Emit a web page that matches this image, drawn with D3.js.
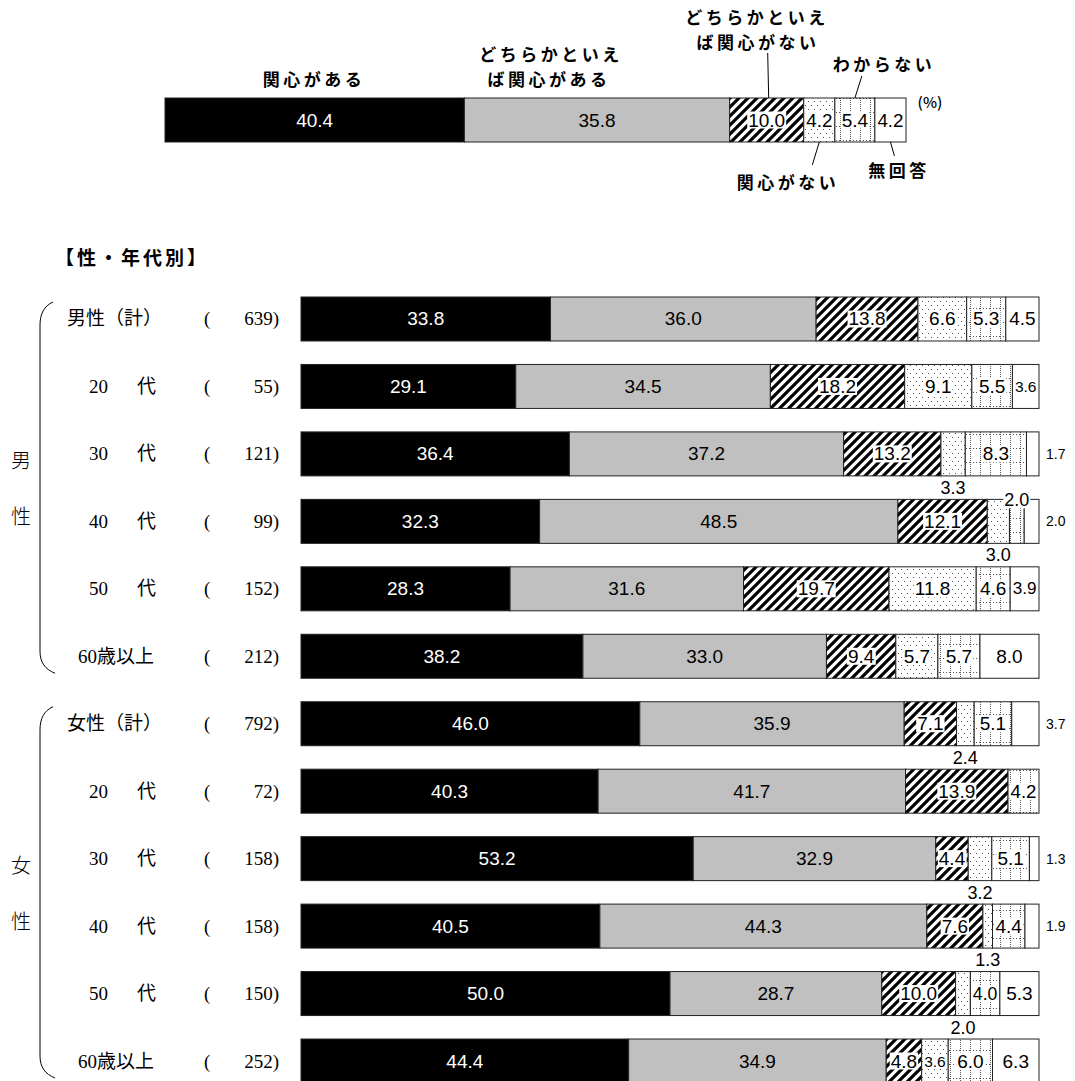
<!DOCTYPE html>
<html><head><meta charset="utf-8">
<script src="https://cdn.jsdelivr.net/npm/d3@7"></script>
<style>html,body{margin:0;padding:0;background:#fff;} svg{display:block}</style>
</head><body><svg id="c" width="1075" height="1081"></svg>
<script>
// ---------- data ----------
const categories = ["関心がある","どちらかといえば関心がある","どちらかといえば関心がない","関心がない","わからない","無回答"];
const overall = [40.4, 35.8, 10.0, 4.2, 5.4, 4.2];
const groupNames = [["男","性"],["女","性"]];
const rowLabels = ["男性（計）","20　代","30　代","40　代","50　代","60歳以上","女性（計）","20　代","30　代","40　代","50　代","60歳以上"];
const rowN = [639, 55, 121, 99, 152, 212, 792, 72, 158, 158, 150, 252];
const sInterest   = [33.8, 29.1, 36.4, 32.3, 28.3, 38.2, 46.0, 40.3, 53.2, 40.5, 50.0, 44.4];
const sSomewhat   = [36.0, 34.5, 37.2, 48.5, 31.6, 33.0, 35.9, 41.7, 32.9, 44.3, 28.7, 34.9];
const sSomeNot    = [13.8, 18.2, 13.2, 12.1, 19.7,  9.4,  7.1, 13.9,  4.4,  7.6, 10.0,  4.8];
const sNot        = [ 6.6,  9.1,  3.3,  3.0, 11.8,  5.7,  2.4,  0.0,  3.2,  1.3,  2.0,  3.6];
const sDontKnow   = [ 5.3,  5.5,  8.3,  2.0,  4.6,  5.7,  5.1,  4.2,  5.1,  4.4,  4.0,  6.0];
const sNoAnswer   = [ 4.5,  3.6,  1.7,  2.0,  3.9,  8.0,  3.7,  0.0,  1.3,  1.9,  5.3,  6.3];
const series = [sInterest, sSomewhat, sSomeNot, sNot, sDontKnow, sNoAnswer];
// labels placed outside the bar: [row, series, where]
const outsideLabels = [[2,3,"below"],[2,5,"right"],[3,3,"below"],[3,4,"above"],[3,5,"right"],
  [6,3,"below"],[6,5,"right"],[8,3,"below"],[8,5,"right"],[9,3,"below"],[9,5,"right"],[10,3,"below"]];

// ---------- setup ----------
const SANS = "'Liberation Sans', Arial, sans-serif";
const JP = "'Noto Sans CJK JP', sans-serif";
const SERIF = "'Liberation Serif', 'Noto Sans CJK JP', serif";
const svg = d3.select("#c");
const defs = svg.append("defs");

const ph = defs.append("pattern").attr("id","hatch").attr("patternUnits","userSpaceOnUse").attr("width",9).attr("height",9);
ph.append("rect").attr("width",9).attr("height",9).attr("fill","#fff");
ph.append("path").attr("d","M-2,2 L2,-2 M0,9 L9,0 M7,11 L11,7").attr("stroke","#000").attr("stroke-width",3.2);

const pd = defs.append("pattern").attr("id","dots").attr("patternUnits","userSpaceOnUse").attr("width",6).attr("height",8);
pd.append("rect").attr("width",6).attr("height",8).attr("fill","#fff");
pd.append("rect").attr("x",1).attr("y",1).attr("width",1).attr("height",1).attr("fill","#555");
pd.append("rect").attr("x",4).attr("y",5).attr("width",1).attr("height",1).attr("fill","#555");

const pg = defs.append("pattern").attr("id","grid").attr("patternUnits","userSpaceOnUse").attr("width",10).attr("height",14);
pg.append("rect").attr("width",10).attr("height",14).attr("fill","#fff");
pg.append("line").attr("x1",0.5).attr("x2",0.5).attr("y1",0).attr("y2",14).attr("stroke","#555").attr("stroke-width",1).attr("stroke-dasharray","1,1");
pg.append("line").attr("x1",0).attr("x2",10).attr("y1",0.5).attr("y2",0.5).attr("stroke","#555").attr("stroke-width",1).attr("stroke-dasharray","1,2");

const fills = ["#000","#c0c0c0","url(#hatch)","url(#dots)","url(#grid)","#fff"];
const txtColor = ["#fff","#000","#000","#000","#000","#000"];
const needBg = [false,false,true,true,true,false];

function addLabel(parent, cx, cy, str, o) {
  const g = parent.append("g");
  const r = o.bg ? g.append("rect").attr("fill","#fff") : null;
  const t = g.append("text").attr("x",cx).attr("y",cy)
    .attr("text-anchor",o.anchor||"middle").attr("dominant-baseline","central")
    .attr("font-family",SANS).attr("font-size",o.size).attr("fill",o.color||"#000").text(str);
  if (o.maxW) {
    const len = t.node().getComputedTextLength();
    if (len > o.maxW) t.attr("font-size", Math.max(10, o.size*o.maxW/len));
  }
  if (r) {
    const b = t.node().getBBox();
    r.attr("x",b.x-1).attr("y",b.y+2).attr("width",b.width+2).attr("height",b.height-4);
  }
}

// ---------- overall bar ----------
const xTop = d3.scaleLinear().domain([0,100]).range([165,906]);
const topY = 98, barH = 44;
const ends = Array.from(d3.cumsum(overall));
const topG = svg.append("g");
overall.forEach((v,k)=>{
  const x0 = xTop(ends[k]-v), x1 = xTop(ends[k]);
  topG.append("rect").attr("x",x0).attr("y",topY).attr("width",x1-x0).attr("height",barH)
    .attr("fill",fills[k]).attr("stroke","#222").attr("stroke-width",1);
});
overall.forEach((v,k)=>{
  const x0 = xTop(ends[k]-v), x1 = xTop(ends[k]);
  addLabel(topG,(x0+x1)/2,topY+barH/2,v.toFixed(1),{size:19,color:txtColor[k],bg:needBg[k],maxW:x1-x0-5});
});
const cTop = k => xTop(ends[k]-overall[k]/2);
const lead = [[cTop(2)+2,topY,cTop(2)+1,53],[cTop(4),topY,cTop(4)+7,76],[cTop(3),topY+barH,cTop(3)-7,165],[cTop(5),topY+barH,cTop(5)+4,156]];
lead.forEach(l=>topG.append("line").attr("x1",l[0]).attr("y1",l[1]).attr("x2",l[2]).attr("y2",l[3]).attr("stroke","#000").attr("stroke-width",1));
const legendText = [["関心がある",312,78],["どちらかといえ",549,53],["ば関心がある",547,78],
  ["どちらかといえ",755,16],["ば関心がない",756,41],["わからない",882,63],["関心がない",786,181],["無回答",897,169]];
legendText.forEach(t=>topG.append("text").attr("x",t[1]+2).attr("y",t[2]).attr("text-anchor","middle")
  .attr("dominant-baseline","central").attr("font-family",JP).attr("font-weight",700).attr("font-size",17)
  .attr("letter-spacing","3.5px").text(t[0]));
topG.append("text").attr("x",930).attr("y",101).attr("text-anchor","middle").attr("dominant-baseline","central")
  .attr("font-family",JP).attr("font-size",15).attr("font-weight",500).text("(%)");

// ---------- title ----------
svg.append("text").attr("x",55).attr("y",256).attr("dominant-baseline","central").attr("font-family",JP)
  .attr("font-weight",700).attr("font-size",19).attr("letter-spacing","3px").text("【性・年代別】");

// ---------- breakdown ----------
const x = d3.scaleLinear().domain([0,1]).range([301,1039]);
const y = d3.scaleBand().domain(d3.range(rowLabels.length)).range([297,1083]).paddingInner(0.348).paddingOuter(0);
const rows = rowLabels.map((l,i)=>({i}));
const stacked = d3.stack().keys(d3.range(series.length)).value((d,k)=>series[k][d.i]).offset(d3.stackOffsetExpand)(rows);
const bh = y.bandwidth();
const barsG = svg.append("g");
stacked.forEach((layer,k)=>{
  barsG.selectAll(null).data(layer.filter(d=>series[k][d.data.i]>0)).join("rect")
    .attr("x",d=>x(d[0])).attr("y",d=>y(d.data.i)).attr("width",d=>x(d[1])-x(d[0])).attr("height",bh)
    .attr("fill",fills[k]).attr("stroke","#222").attr("stroke-width",1);
});
const labG = svg.append("g");
const outMap = new Map(outsideLabels.map(o=>[o[0]+"_"+o[1],o[2]]));
stacked.forEach((layer,k)=>{
  layer.forEach(d=>{
    const i = d.data.i, v = series[k][i];
    if (v<=0) return;
    const x0 = x(d[0]), x1 = x(d[1]), top = y(i), cx=(x0+x1)/2;
    const where = outMap.get(i+"_"+k);
    if (!where) addLabel(labG,cx,top+bh/2,v.toFixed(1),{size:19,color:txtColor[k],bg:needBg[k],maxW:x1-x0-5});
    else if (where==="below") addLabel(labG,cx,top+bh+12,v.toFixed(1),{size:18,bg:true});
    else if (where==="above") addLabel(labG,cx,top+1,v.toFixed(1),{size:18,bg:true});
    else addLabel(labG,1046,top+bh/2,v.toFixed(1),{size:14,anchor:"start"});
  });
});

// row labels
const lg = svg.append("g").attr("font-family",SERIF).attr("font-size",19).attr("fill","#000");
rowLabels.forEach((l,i)=>{
  const cy = y(i)+bh/2;
  const parts = l.split("　");
  if (parts.length === 2) {
    lg.append("text").attr("x",89).attr("y",cy).attr("dominant-baseline","central").text(parts[0]);
    lg.append("text").attr("x",137).attr("y",cy).attr("dominant-baseline","central").text(parts[1]);
  } else {
    lg.append("text").attr("x",l.startsWith("60") ? 78 : 67).attr("y",cy).attr("dominant-baseline","central").text(l);
  }
  lg.append("text").attr("x",204).attr("y",cy).attr("dominant-baseline","central").text("(");
  lg.append("text").attr("x",279).attr("y",cy).attr("text-anchor","end").attr("dominant-baseline","central").text(rowN[i]+")");
});

// group braces
const braceG = svg.append("g");
[[0,5],[6,11]].forEach((r,gi)=>{
  const t = y(r[0])+5, b = y(r[1])+bh-5;
  braceG.append("path").attr("d",`M53,${t} C44,${t+4} 40,${t+12} 40,${t+23} L40,${b-22} C40,${b-11} 45,${b-4} 55,${b}`)
    .attr("fill","none").attr("stroke","#000").attr("stroke-width",1);
  const mid = (y(r[0])+y(r[1])+bh)/2;
  groupNames[gi].forEach((ch,j)=>braceG.append("text").attr("x",21).attr("y",mid-28+j*56).attr("text-anchor","middle")
    .attr("dominant-baseline","central").attr("font-family",JP).attr("font-size",20).attr("font-weight",300).text(ch));
});
</script></body></html>
